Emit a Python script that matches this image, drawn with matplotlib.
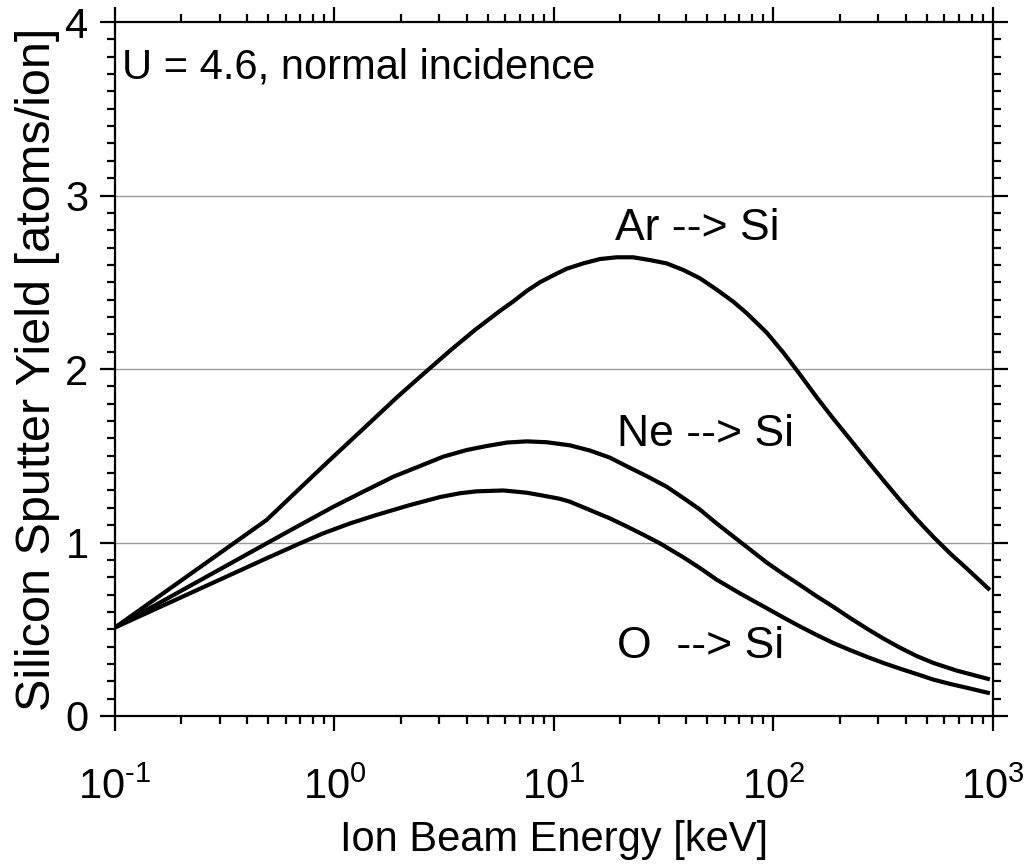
import numpy as np
import matplotlib
matplotlib.use("Agg")
import matplotlib.pyplot as plt
from matplotlib.ticker import LogLocator, MultipleLocator, FuncFormatter

plt.rcParams['font.family'] = ['Liberation Sans', 'DejaVu Sans']
plt.rcParams['mathtext.fontset'] = 'custom'
plt.rcParams['mathtext.rm'] = 'Liberation Sans'
plt.rcParams['mathtext.it'] = 'Liberation Sans:italic'
plt.rcParams['mathtext.bf'] = 'Liberation Sans:bold'
plt.rcParams['axes.unicode_minus'] = False

# log10 of ion energy [keV] and sputter yields [atoms/ion]
ar_logE = [-1.0, -0.309, -0.172, -0.021, 0.131, 0.283, 0.390, 0.526, 0.640,
           0.754, 0.815, 0.876, 0.936, 0.997, 1.058, 1.134, 1.210, 1.286, 1.361,
           1.437, 1.513, 1.589, 1.665, 1.741, 1.817, 1.878, 1.969, 2.045, 2.121,
           2.197, 2.272, 2.349, 2.424, 2.500, 2.576, 2.652, 2.728, 2.804, 2.880, 2.986]
ar_yield = [0.51, 1.13, 1.295, 1.476, 1.655, 1.835, 1.955, 2.105, 2.225,
            2.335, 2.39, 2.45, 2.50, 2.54, 2.578, 2.609, 2.634, 2.644, 2.644,
            2.628, 2.609, 2.571, 2.523, 2.458, 2.388, 2.322, 2.210, 2.095, 1.968,
            1.837, 1.715, 1.595, 1.477, 1.360, 1.245, 1.135, 1.033, 0.938, 0.851, 0.726]

ne_logE = [-1.0, -0.309, -0.157, -0.005, 0.131, 0.268, 0.390, 0.496, 0.602,
           0.693, 0.785, 0.876, 0.967, 1.073, 1.164, 1.255, 1.331, 1.422, 1.513,
           1.589, 1.665, 1.741, 1.832, 1.893, 1.969, 2.045, 2.121, 2.197, 2.272,
           2.349, 2.424, 2.500, 2.576, 2.652, 2.728, 2.834, 2.986]
ne_yield = [0.51, 0.995, 1.101, 1.206, 1.293, 1.379, 1.441, 1.495, 1.533,
            1.556, 1.576, 1.583, 1.578, 1.560, 1.530, 1.489, 1.440, 1.383, 1.322,
            1.257, 1.190, 1.110, 1.020, 0.960, 0.885, 0.818, 0.755, 0.690, 0.630,
            0.565, 0.505, 0.447, 0.394, 0.346, 0.306, 0.262, 0.211]

o_logE = [-1.0, -0.309, -0.157, -0.051, 0.071, 0.192, 0.344, 0.481, 0.572,
          0.648, 0.769, 0.876, 0.951, 1.027, 1.073, 1.164, 1.255, 1.331, 1.407,
          1.483, 1.589, 1.665, 1.741, 1.847, 1.954, 2.045, 2.121, 2.197, 2.272,
          2.349, 2.424, 2.500, 2.576, 2.652, 2.728, 2.804, 2.880, 2.986]
o_yield = [0.51, 0.909, 0.995, 1.053, 1.110, 1.159, 1.216, 1.262, 1.284,
           1.295, 1.300, 1.287, 1.270, 1.252, 1.235, 1.187, 1.139, 1.093, 1.045,
           0.995, 0.915, 0.853, 0.786, 0.707, 0.632, 0.568, 0.516, 0.467, 0.421,
           0.380, 0.342, 0.306, 0.273, 0.242, 0.210, 0.185, 0.163, 0.131]

labels = ["Ar --> Si", "Ne --> Si", "O  --> Si"]
label_E = [19.0, 19.3, 19.3]
label_Y = [2.81, 1.62, 0.40]


def log_fmt(v, pos):
    e = int(round(np.log10(v)))
    es = str(e).replace('-', r'\text{-}')
    return r'$\mathregular{10^{' + es + '}}$'


fig = plt.figure(figsize=(10.31, 8.64), dpi=100)
ax = fig.add_axes([0.1115, 0.1713, 0.9631 - 0.1115, 0.9745 - 0.1713])

for le, yv in [(ar_logE, ar_yield), (ne_logE, ne_yield), (o_logE, o_yield)]:
    ax.plot(10 ** np.array(le), yv, color='black', lw=3.0,
            solid_joinstyle='round', solid_capstyle='butt', zorder=3)

for lab, xe, ye in zip(labels, label_E, label_Y):
    ax.text(xe, ye, lab, fontsize=32, ha='left', va='center', color='black')

ax.text(0.008, 0.935, "U = 4.6, normal incidence", transform=ax.transAxes,
        fontsize=30, ha='left', va='center')

ax.set_xscale('log')
ax.set_xlim(0.1, 1000)
ax.set_ylim(0, 4)

ax.xaxis.set_major_locator(LogLocator(base=10, numticks=10))
ax.xaxis.set_minor_locator(LogLocator(base=10, subs=np.arange(2, 10), numticks=20))
ax.xaxis.set_major_formatter(FuncFormatter(log_fmt))
ax.yaxis.set_major_locator(MultipleLocator(1))
ax.yaxis.set_minor_locator(MultipleLocator(0.1))

for yg in [1, 2, 3]:
    ax.axhline(yg, color='#9a9a9a', lw=1.0, zorder=1)

ax.tick_params(which='both', direction='out', top=True, right=True, width=1.6, color='black')
ax.tick_params(which='major', length=11)
ax.tick_params(which='minor', length=5.5)
ax.tick_params(axis='x', which='major', labelsize=30, pad=26)
ax.tick_params(axis='y', which='major', labelsize=30, pad=8)
for s in ax.spines.values():
    s.set_linewidth(1.6)

ax.set_xlabel("Ion Beam Energy [keV]", fontsize=30, labelpad=9)
ax.set_ylabel("Silicon Sputter Yield [atoms/ion]", fontsize=35, labelpad=4)

fig.savefig("out.png", dpi=100)
